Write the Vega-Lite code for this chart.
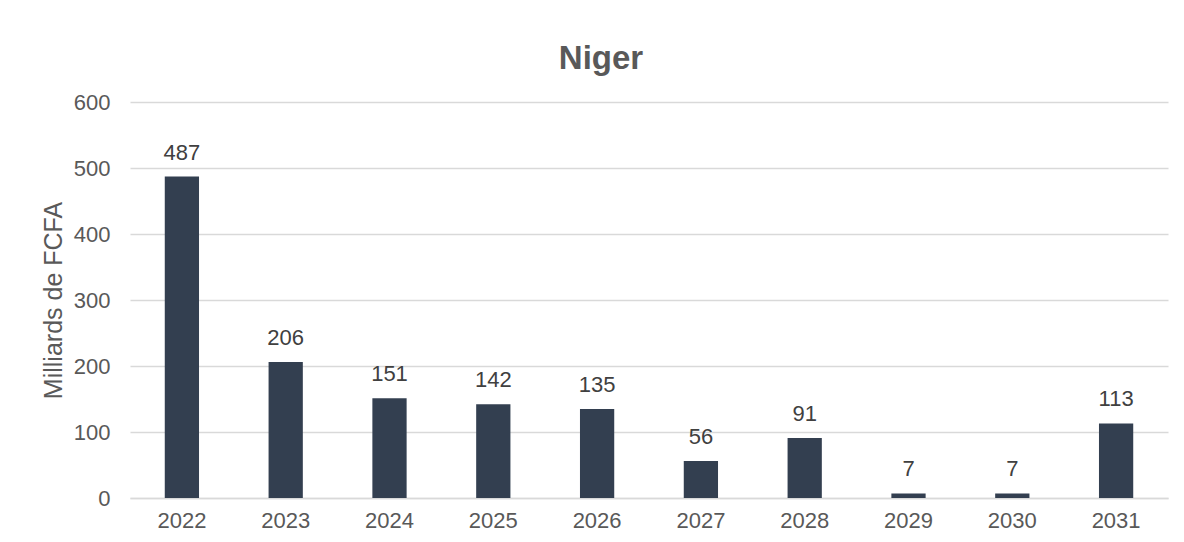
{
  "$schema": "https://vega.github.io/schema/vega-lite/v6.json",
  "width": 1038,
  "height": 396,
  "autosize": {"type": "none"},
  "padding": {"left": 130, "top": 102, "right": 16, "bottom": 44},
  "background": "#ffffff",
  "title": {"text": "Niger", "font": "Liberation Sans", "fontSize": 33, "fontWeight": "bold", "color": "#595959", "offset": 15, "dx": -48},
  "config": {"view": {"stroke": null}, "font": "Liberation Sans"},
  "data": {"values": [
    {"year": "2022", "value": 487},
    {"year": "2023", "value": 206},
    {"year": "2024", "value": 151},
    {"year": "2025", "value": 142},
    {"year": "2026", "value": 135},
    {"year": "2027", "value": 56},
    {"year": "2028", "value": 91},
    {"year": "2029", "value": 7},
    {"year": "2030", "value": 7},
    {"year": "2031", "value": 113}
  ]},
  "encoding": {
    "x": {"field": "year", "type": "nominal", "scale": {"paddingInner": 0.67, "paddingOuter": 0.335},
      "axis": {"title": null, "labelAngle": 0, "labelFontSize": 22, "labelColor": "#595959", "labelPadding": 12, "ticks": false, "domainColor": "#d9d9d9", "domainWidth": 1.5}},
    "y": {"field": "value", "type": "quantitative", "scale": {"domain": [0, 600]},
      "axis": {"title": "Milliards de FCFA", "titleFontSize": 25, "titleFontWeight": "normal", "titleColor": "#595959", "titlePadding": 7, "labelFontSize": 22, "labelColor": "#595959", "labelPadding": 20, "labelOverlap": false, "ticks": false, "domain": false, "gridColor": "#d9d9d9", "gridWidth": 1.5, "values": [0,100,200,300,400,500,600]}}
  },
  "layer": [
    {"mark": {"type": "bar", "color": "#333F50"}},
    {"mark": {"type": "text", "baseline": "bottom", "dy": -12, "fontSize": 22, "color": "#404040"}, "encoding": {"text": {"field": "value", "type": "quantitative"}}}
  ]
}
